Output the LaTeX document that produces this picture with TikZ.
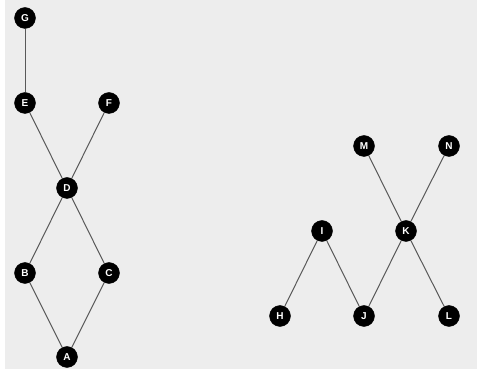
\documentclass[tikz,border=0pt]{standalone}
\usepackage{fontspec}
\setmainfont{Liberation Sans}
\begin{document}
\begin{tikzpicture}[x=1pt,y=-1pt,
  vert/.style={circle,fill=black,draw=black,minimum size=21pt,inner sep=0pt,text=white,font=\bfseries\fontsize{10}{10}\selectfont},
  edge/.style={draw=black!65,line width=1pt}]
\useasboundingbox (0,0) rectangle (477,371);
\fill[white] (0,0) rectangle (477,371);
\fill[black!7] (5,0) rectangle (477,369);
\node[vert] (G) at (25,18) {G};
\node[vert] (E) at (25,103) {E};
\node[vert] (F) at (109,103) {F};
\node[vert] (D) at (67,188) {D};
\node[vert] (B) at (25,273) {B};
\node[vert] (C) at (109,273) {C};
\node[vert] (A) at (67,357) {A};
\node[vert] (M) at (364,146) {M};
\node[vert] (N) at (449,146) {N};
\node[vert] (I) at (322,231) {I};
\node[vert] (K) at (406,231) {K};
\node[vert] (H) at (280,316) {H};
\node[vert] (J) at (364,316) {J};
\node[vert] (L) at (449,316) {L};
\foreach \a/\b in {G/E,E/D,F/D,D/B,D/C,B/A,C/A,M/K,N/K,I/H,I/J,K/J,K/L}
  \draw[edge] (\a) -- (\b);
\end{tikzpicture}
\end{document}
